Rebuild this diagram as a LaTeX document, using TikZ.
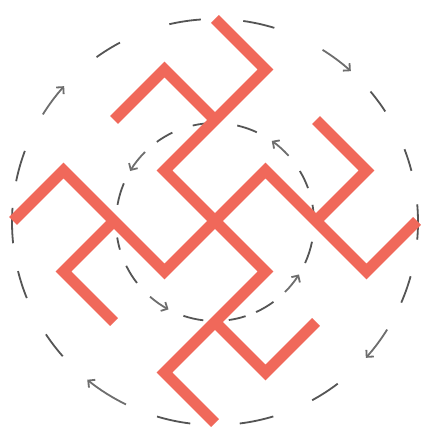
\documentclass[tikz,border=0pt]{standalone}
\usetikzlibrary{arrows.meta}
\definecolor{swred}{RGB}{240,104,90}
\definecolor{dashgray}{RGB}{85,85,85}
\begin{document}
\begin{tikzpicture}[x=1pt,y=1pt,
  dashline/.style={draw=dashgray,line width=1.8pt},
  arrowline/.style={draw=dashgray!85,line width=1.8pt,-{Straight Barb[length=5pt,width=10pt]}},
  redline/.style={draw=swred,line width=11pt,line join=miter,line cap=butt}]
\useasboundingbox (0,0) rectangle (422,432);
\fill[white] (0,0) rectangle (422,432);
\coordinate (O) at (215,210);
\coordinate (C) at (215,211);
% outer dashed circle (clockwise)
\foreach \s/\e in {94/103,73/82,33/40,14.6/21,-5/5,-23.4/-15.5,-61.4/-52.8,-83/-73.3,-106.6/-97,-146.4/-138.6,-166/-158,176/186,159.5/168.4,117.9/125.7}
  \draw[dashline] ([shift={(O)}]\s:203) arc[start angle=\s,end angle=\e,radius=203];
\foreach \s/\e in {58/48,-32/-42,-116/-129,148/138}
  \draw[arrowline] ([shift={(O)}]\s:203) arc[start angle=\s,end angle=\e,radius=203];
% inner dashed circle (counter-clockwise)
\foreach \s/\e in {90/103,65/77,20/31,-2/10,-24.5/-11.5,-65.5/-53.8,-82/-72,-108.6/-96.8,-153.7/-142,-171/-163.8,157/170,115.5/126}
  \draw[dashline] ([shift={(O)}]\s:99) arc[start angle=\s,end angle=\e,radius=99];
\foreach \s/\e in {42/55,-45/-32,-131/-118,135/149}
  \draw[arrowline] ([shift={(O)}]\s:99) arc[start angle=\s,end angle=\e,radius=99];
% red symbol
\foreach \r in {0,-90}{
  \begin{scope}[shift={(C)},rotate=\r]
    \draw[redline] (0,202) -- (50.5,151.5) -- (0,101) -- (-50.5,50.5) -- (0,0)
                   -- (50.5,-50.5) -- (0,-101) -- (-50.5,-151.5) -- (0,-202);
    \draw[redline] (0,101) -- (-50.5,151.5) -- (-101,101);
    \draw[redline] (0,-101) -- (50.5,-151.5) -- (101,-101);
  \end{scope}
}
\end{tikzpicture}
\end{document}
